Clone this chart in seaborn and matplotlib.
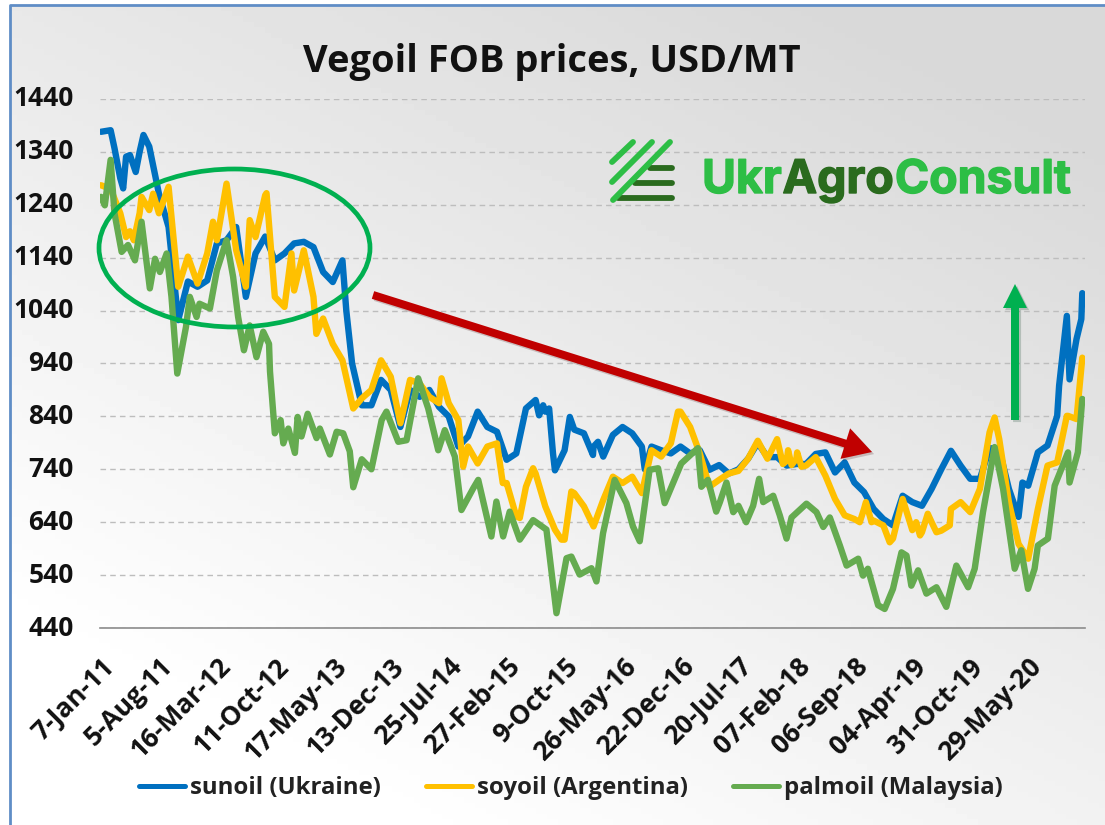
import numpy as np
import pandas as pd
import matplotlib
matplotlib.use("Agg")
import matplotlib.pyplot as plt
import seaborn as sns
from matplotlib.patches import Ellipse, FancyArrow
from matplotlib.transforms import ScaledTranslation
import matplotlib.patheffects as pe

# tick labels, one every 30 weeks on a category axis
tick_labels = ["7-Jan-11", "5-Aug-11", "16-Mar-12", "11-Oct-12", "17-May-13", "13-Dec-13",
               "25-Jul-14", "27-Feb-15", "9-Oct-15", "26-May-16", "22-Dec-16", "20-Jul-17",
               "07-Feb-18", "06-Sep-18", "04-Apr-19", "31-Oct-19", "29-May-20"]
y_ticks = [440, 540, 640, 740, 840, 940, 1040, 1140, 1240, 1340, 1440]

# values read every 5 weeks, with extra points at the sharp turns
grid_weeks = list(range(0, 510, 5))
sun_vals = [1378, 1381, 1290, 1334, 1340, 1350, 1261, 1198, 1022, 1095, 1085, 1097, 1167, 1173, 1198, 1066, 1148,
            1180, 1135, 1148, 1167, 1170, 1160, 1113, 1094, 1135, 940, 861, 861, 909, 890, 820, 890, 877, 890, 858,
            840, 783, 802, 849, 820, 811, 758, 770, 855, 871, 849, 738, 776, 815, 808, 783, 764, 805, 820, 808, 783,
            783, 776, 770, 783, 770, 776, 739, 748, 732, 740, 760, 790, 763, 763, 747, 750, 750, 769, 772, 734, 753,
            715, 697, 665, 646, 634, 690, 678, 671, 703, 740, 775, 747, 722, 722, 780, 778, 703, 650, 709, 772, 785,
            841, 1030, 986]
sun_extra_weeks = [7, 11.5, 13, 18, 22, 127, 226.8, 228.9, 232, 234, 242.7, 254.7, 257.3, 281.5, 477, 496, 501.4, 507.5, 508]
sun_extra_vals = [1347, 1271, 1331, 1302, 1372, 1040, 842, 861, 855, 770, 839, 767, 792, 740, 715, 898, 910, 1024, 1073]

soy_vals = [1277, 1270, 1224, 1190, 1224, 1230, 1224, 1274, 1085, 1142, 1091, 1148, 1173, 1280, 1154, 1085, 1179,
            1258, 1066, 1047, 1078, 1154, 1066, 1025, 977, 946, 864, 874, 890, 946, 915, 827, 909, 902, 877, 865,
            865, 833, 783, 751, 783, 789, 714, 651, 707, 732, 670, 626, 607, 695, 670, 632, 682, 726, 714, 726, 695,
            776, 764, 789, 849, 820, 770, 707, 720, 732, 737, 760, 794, 760, 797, 756, 760, 747, 763, 728, 684, 653,
            646, 665, 643, 634, 609, 684, 625, 621, 640, 624, 665, 678, 659, 703, 810, 797, 678, 599, 571, 665, 747,
            753, 841, 835]
soy_extra_weeks = [13, 17, 21, 27, 58, 77, 85.7, 98.6, 111.5, 130.6, 176.3, 187.5, 208, 216.8, 223.7, 238.4, 243.5,
                   298.7, 353, 355.7, 357.5, 360.4, 362.6, 392.8, 396, 398.9, 408.3, 422, 424, 428, 432.5, 439.4,
                   462.6, 500.6, 508]
soy_extra_vals = [1179, 1173, 1255, 1261, 1208, 1211, 1262, 1148, 996, 855, 912, 745, 714, 648, 742, 607, 698,
                  849, 750, 776, 748, 772, 745, 640, 678, 640, 602, 640, 615, 656, 621, 634,
                  838, 841, 951]

palm_weeks = [0, 2, 5, 7, 10.7, 14, 17.6, 21, 25.3, 28, 30.5, 34, 36.5, 39.5, 44, 46, 49.5, 51, 56.4, 60, 65, 68.4,
              71, 74, 77, 80.5, 84, 87, 87.5, 90, 93, 94.4, 97, 100.4, 101.8, 103.8, 107, 111.6, 113.3, 118.5, 122,
              125.4, 128.8, 130.6, 135, 140, 145.3, 147.8, 153.9, 158.2, 164.2, 169.4, 174.6, 178, 183.2, 186.6,
              192.7, 195.3, 202.1, 204.7, 208.2, 211.6, 216.8, 223.7, 230.6, 235.8, 241, 243.5, 247.8, 253.9, 256.5,
              259.9, 265.9, 272, 275.4, 278.9, 284, 288.4, 291.8, 300.4, 309, 310.8, 314.2, 318.5, 320.4, 323.8,
              327.3, 330, 334, 337.6, 340.7, 342.8, 348, 351.4, 354.9, 357.5, 365.2, 370.4, 373.9, 377.3, 382.5,
              386, 392, 394.5, 397, 402.3, 405.7, 410, 414.4, 417, 419.5, 423, 427.3, 432.5, 437.6, 442.8, 448.9,
              452.3, 456.6, 462.6, 467, 473, 476.4, 479.9, 483.3, 485, 490.2, 493.7, 500.6, 501.4, 505.7, 508]
palm_vals = [1255, 1239, 1325, 1224, 1151, 1164, 1135, 1208, 1082, 1138, 1113, 1148, 1066, 921, 1009, 1066, 1028,
             1053, 1044, 1116, 1173, 1104, 1028, 965, 1012, 952, 1000, 977, 925, 808, 833, 789, 817, 771, 839, 802,
             845, 799, 817, 768, 811, 808, 774, 706, 759, 740, 833, 849, 792, 795, 912, 855, 776, 814, 764, 663, 704,
             720, 613, 679, 613, 660, 607, 644, 626, 468, 572, 575, 541, 553, 528, 619, 720, 676, 632, 604, 739, 742,
             676, 751, 780, 707, 720, 660, 678, 715, 659, 671, 640, 671, 722, 678, 690, 653, 609, 649, 675, 659, 631,
             649, 596, 558, 571, 539, 552, 483, 476, 514, 583, 577, 520, 549, 505, 517, 480, 558, 517, 552, 659, 782,
             703, 552, 587, 514, 552, 596, 609, 709, 772, 715, 772, 873]

sun = pd.DataFrame({"week": grid_weeks + sun_extra_weeks, "price": sun_vals + sun_extra_vals})
sun["oil"] = "sunoil (Ukraine)"
soy = pd.DataFrame({"week": grid_weeks + soy_extra_weeks, "price": soy_vals + soy_extra_vals})
soy["oil"] = "soyoil (Argentina)"
palm = pd.DataFrame({"week": palm_weeks, "price": palm_vals})
palm["oil"] = "palmoil (Malaysia)"
df = pd.concat([sun, soy, palm])

sns.set_theme(style="white")
plt.rcParams["font.family"] = ["Open Sans", "DejaVu Sans"]

W, H = 1105, 825
fig = plt.figure(figsize=(W / 100, H / 100), dpi=100)

# grey gradient behind everything
bg = fig.add_axes([0, 0, 1, 1], zorder=-1)
xx, yy = np.meshgrid(np.linspace(0, 1, 200), np.linspace(0, 1, 150))
shade = 0.85 + 0.15 * np.clip(1.2 - 0.55 * xx - 0.8 * (1 - yy), 0, 1)
bg.imshow(shade, cmap="gray", vmin=0, vmax=1, extent=(0, W, H, 0), aspect="auto")
bg.set_xlim(0, W)
bg.set_ylim(H, 0)
bg.axis("off")

# main chart
ax = fig.add_axes([100 / W, (H - 628) / H, 985 / W, 529 / H])
ax.patch.set_alpha(0)
palette = {"sunoil (Ukraine)": "#0070C0", "soyoil (Argentina)": "#FFC000", "palmoil (Malaysia)": "#65AB50"}
sns.lineplot(data=df, x="week", y="price", hue="oil", palette=palette, estimator=None, linewidth=4.6, ax=ax)
for line in ax.lines:
    line.set_solid_joinstyle("round")

ax.set_xlim(-0.5, 509.4)
ax.set_ylim(440, 1440)
ax.set_yticks(y_ticks)
ax.set_xticks(np.arange(len(tick_labels)) * 30)
ax.set_xticklabels(tick_labels, rotation=45, ha="right", va="top", rotation_mode="anchor",
                   fontsize=19, fontweight="bold", color="#111111")
ax.tick_params(axis="x", length=0, pad=18)
ax.tick_params(axis="y", length=0, pad=19, labelsize=19, labelcolor="#111111")
nudge = ScaledTranslation(0, 3 / 100, fig.dpi_scale_trans)
for lab in ax.get_yticklabels():
    lab.set_fontweight("bold")
    lab.set_transform(lab.get_transform() + nudge)
ax.set_xlabel("")
ax.set_ylabel("")
ax.grid(axis="y", color="#BDBDBD", linestyle=(0, (4, 3)), linewidth=1)
ax.set_axisbelow(True)
for s in ["top", "left", "right"]:
    ax.spines[s].set_visible(False)
ax.spines["bottom"].set_color("#8C8C8C")
ax.spines["bottom"].set_linewidth(1.2)

handles, labels = ax.get_legend_handles_labels()
for h in handles:
    h.set_linewidth(3.6)
leg = ax.legend(handles, labels, loc="center", bbox_to_anchor=(571 / W, (H - 788) / H),
                bbox_transform=fig.transFigure, ncol=3, frameon=False, handlelength=1.9, handletextpad=0.2,
                columnspacing=1.9, prop={"size": 17.3, "weight": "bold"})
for t in leg.get_texts():
    t.set_color("#222222")

# overlay in pixel coordinates for the border, title, logo and callouts
top = fig.add_axes([0, 0, 1, 1], zorder=5)
top.set_xlim(0, W)
top.set_ylim(H, 0)
top.axis("off")
top.patch.set_alpha(0)
top.fill_between([0, 10], 0, H, color="white", lw=0)
top.fill_between([0, W], 0, 5, color="white", lw=0)
top.plot([10, 10, W], [H, 5, 5], color="#5F8DC6", lw=2)

top.text(552, 62, "Vegoil FOB prices, USD/MT", ha="center", va="center", fontsize=27.4, fontweight="bold",
         color="#111111")

top.add_patch(Ellipse((234.5, 248), 271, 158, fill=False, ec="#00B050", lw=3.4))
soft = [pe.SimplePatchShadow(offset=(1.5, -1.5), alpha=0.2), pe.Normal()]
top.add_patch(FancyArrow(373, 295, 499, 157, width=8, head_width=32, head_length=28, length_includes_head=True,
                         color="#C00000", lw=0, path_effects=soft))
top.add_patch(FancyArrow(1015, 420, 0, -136, width=8, head_width=24, head_length=24, length_includes_head=True,
                         color="#00B050", lw=0, path_effects=soft))

# logo
light, dark = "#2DBE45", "#2A6B1E"
for (x0, y0, x1, y1) in [(612, 162, 633, 142), (612, 182, 652, 142), (613, 200, 670, 142)]:
    top.plot([x0, x1], [y0, y1], color=light, lw=4.2, solid_capstyle="round", zorder=3)
for (x0, x1, y) in [(650, 672, 168), (635, 672, 183), (618, 672, 198)]:
    top.plot([x0, x1], [y, y], color=dark, lw=4.2, solid_capstyle="round", zorder=2)
x_text = 702
renderer = fig.canvas.get_renderer()
for word, col in [("Ukr", light), ("Agro", dark), ("Consult", light)]:
    t = top.text(x_text, 193, word, color=col, fontsize=33.4, fontweight="bold", family="Inter", ha="left", va="baseline",
                 path_effects=[pe.withStroke(linewidth=1.0, foreground=col)])
    box = t.get_window_extent(renderer)
    x_text += box.width + 1

fig.savefig("out.png", dpi=100)
